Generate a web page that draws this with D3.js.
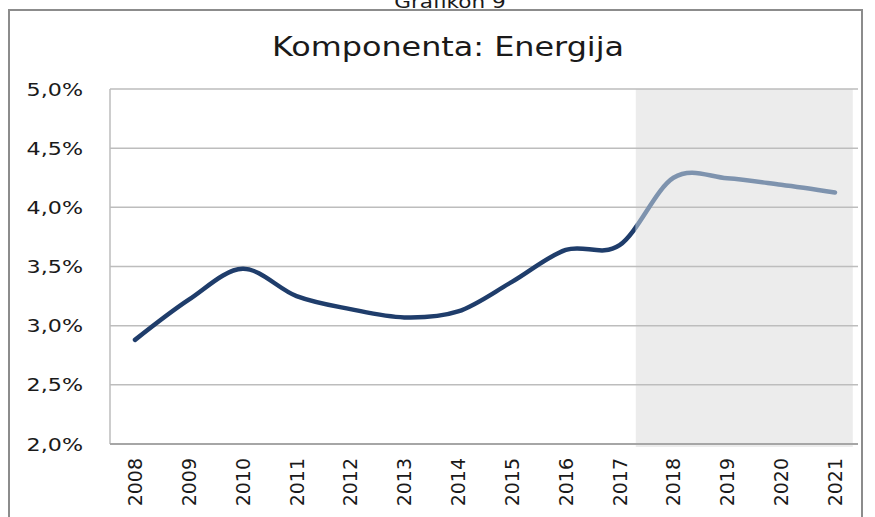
<!DOCTYPE html>
<html>
<head>
<meta charset="utf-8">
<script src="https://cdn.jsdelivr.net/npm/d3@7"></script>
<style>
  body { margin: 0; background: white; }
  svg { display: block; }
  text { font-family: 'DejaVu Sans', Verdana, sans-serif; fill: #1a1a1a; }
</style>
</head>
<body>
<div id="bigdiv"></div>
<script>
// data
let years = [2008, 2009, 2010, 2011, 2012, 2013, 2014, 2015, 2016, 2017, 2018, 2019, 2020, 2021]
let energija = [2.88, 3.22, 3.48, 3.25, 3.14, 3.07, 3.12, 3.37, 3.64, 3.68, 4.25, 4.245, 4.19, 4.125]
let yticks = [2.0, 2.5, 3.0, 3.5, 4.0, 4.5, 5.0]
// projection band (shaded) in years
let forecastBand = [2017.3, 2021.33]

let W = 875, H = 517
let plot = { left: 110, right: 858, top: 89, bottom: 444 }

let svg = d3.select('div#bigdiv').append('svg')
    .attr('width', W).attr('height', H)

// caption above the frame, partly cut off in the original
svg.append('text')
    .attr('transform', 'translate(450,8) scale(1.2,1)')
    .attr('text-anchor', 'middle')
    .attr('font-size', 18)
    .text('Grafikon 9')

// outer frame
svg.append('rect')
    .attr('x', 9).attr('y', 10)
    .attr('width', 853).attr('height', 530)
    .attr('fill', 'white')
    .attr('stroke', '#8c8c8c').attr('stroke-width', 2)

svg.append('text')
    .attr('transform', 'translate(448,56) scale(1.18,1)')
    .attr('text-anchor', 'middle')
    .attr('font-size', 27)
    .text('Komponenta: Energija')

let x = d3.scaleLinear().domain([2008, 2021]).range([135, 835])
let y = d3.scaleLinear().domain([2.0, 5.0]).range([plot.bottom, plot.top])

// shaded forecast area
svg.append('rect')
    .attr('x', x(forecastBand[0]))
    .attr('y', plot.top)
    .attr('width', x(forecastBand[1]) - x(forecastBand[0]))
    .attr('height', plot.bottom - plot.top + 3)
    .attr('fill', '#ececec')

// gridlines
svg.append('g').selectAll('line.grid')
    .data(yticks.slice(1))
    .enter()
    .append('line')
    .attr('class', 'grid')
    .attr('x1', plot.left).attr('x2', plot.right)
    .attr('y1', d => y(d)).attr('y2', d => y(d))
    .attr('stroke', '#bdbdbd').attr('stroke-width', 1.5)

// axes lines
svg.append('line')
    .attr('x1', plot.left).attr('x2', plot.left)
    .attr('y1', plot.top).attr('y2', plot.bottom)
    .attr('stroke', '#bdbdbd').attr('stroke-width', 1.5)
svg.append('line')
    .attr('x1', plot.left).attr('x2', plot.right)
    .attr('y1', plot.bottom).attr('y2', plot.bottom)
    .attr('stroke', '#a6a6a6').attr('stroke-width', 2)

// y tick labels
svg.append('g').selectAll('text.ylab')
    .data(yticks)
    .enter()
    .append('text')
    .attr('class', 'ylab')
    .attr('transform', d => 'translate(83,' + (y(d) + 6.5) + ') scale(1.2,1)')
    .attr('text-anchor', 'end')
    .attr('font-size', 18.5)
    .text(d => d3.format('.1f')(d).replace('.', ',') + '%')

// x tick labels, rotated
svg.append('g').selectAll('text.xlab')
    .data(years)
    .enter()
    .append('text')
    .attr('class', 'xlab')
    .attr('transform', d => 'translate(' + (x(d) + 7) + ',458) rotate(-90)')
    .attr('text-anchor', 'end')
    .attr('font-size', 19)
    .text(d => d)

// line, split in two colours at the start of the shaded band
let defs = svg.append('defs')
defs.append('clipPath').attr('id', 'clipPast')
    .append('rect')
    .attr('x', 0).attr('y', 0)
    .attr('width', x(forecastBand[0])).attr('height', H)
defs.append('clipPath').attr('id', 'clipFuture')
    .append('rect')
    .attr('x', x(forecastBand[0])).attr('y', 0)
    .attr('width', W - x(forecastBand[0])).attr('height', H)

let lineGen = d3.line()
    .x((d, i) => x(years[i]))
    .y(d => y(d))
    .curve(d3.curveCardinal.tension(0))

svg.append('path')
    .datum(energija)
    .attr('d', lineGen)
    .attr('clip-path', 'url(#clipPast)')
    .attr('fill', 'none')
    .attr('stroke', '#1f3d6b').attr('stroke-width', 4.5)
    .attr('stroke-linecap', 'round')

svg.append('path')
    .datum(energija)
    .attr('d', lineGen)
    .attr('clip-path', 'url(#clipFuture)')
    .attr('fill', 'none')
    .attr('stroke', '#7e93ae').attr('stroke-width', 4.5)
    .attr('stroke-linecap', 'round')
</script>
</body>
</html>
